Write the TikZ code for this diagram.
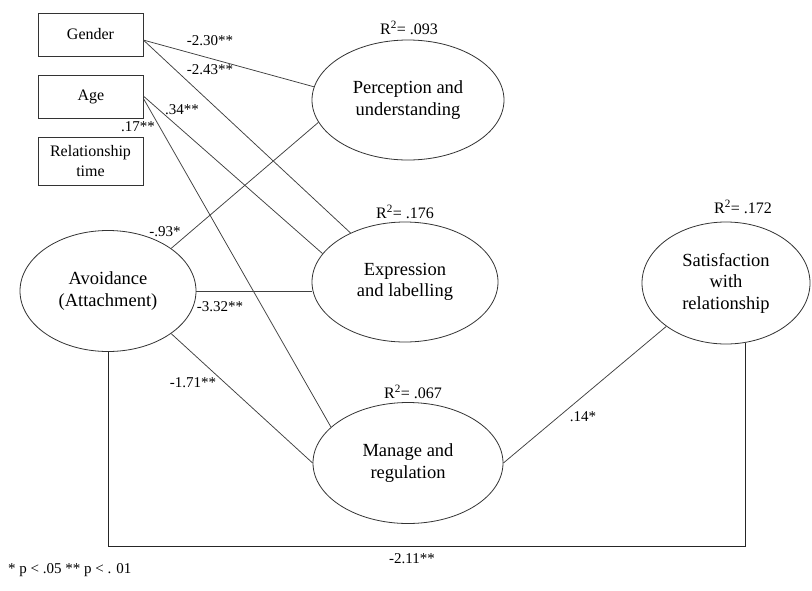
\documentclass[tikz,border=0pt]{standalone}
\usepackage{fontspec}
\setmainfont{Liberation Serif}
\usetikzlibrary{shapes.geometric,calc}
\begin{document}
\begin{tikzpicture}[x=1pt,y=-1pt,
  box/.style={draw=black!80, line width=0.8pt, rectangle, minimum width=105pt, minimum height=43pt, inner sep=0pt, align=center, font=\fontsize{16}{19.5}\selectfont},
  latent/.style={draw=black!80, line width=0.8pt, ellipse, inner sep=0pt, align=center, font=\fontsize{18.5}{21.5}\selectfont},
  conn/.style={draw=black!75, line width=0.75pt},
  coef/.style={font=\fontsize{15}{18}\selectfont, inner sep=0pt},
  rsq/.style={font=\fontsize{16}{19}\selectfont, inner sep=0pt}]
\useasboundingbox (0,0) rectangle (812,590);
\fill[white] (0,0) rectangle (812,590);

% observed variables
\node[box] (gender) at (90.5,34.5) {Gender};
\node[box] (age) at (91,96.5) {Age};
\node[box, minimum height=48pt] (rtime) at (90.5,161) {Relationship\\time};

% latent variables
\node[latent, minimum width=192pt, minimum height=120pt] (perc) at (408,100) {Perception and\\understanding};
\node[latent, minimum width=186pt, minimum height=120pt] (expr) at (405,282) {Expression\\and labelling};
\node[latent, minimum width=176pt, minimum height=121pt] (avoid) at (108,291) {Avoidance\\(Attachment)};
\node[latent, minimum width=190pt, minimum height=121pt] (manage) at (408,463) {Manage and\\regulation};
\node[latent, minimum width=168pt, minimum height=122pt] (satis) at (726,283) {Satisfaction\\with\\relationship};

% R squared
\node[rsq] (r1) at (409,28) {R\textsuperscript{2}= .093};
\node[rsq] (r2) at (405,212) {R\textsuperscript{2}= .176};
\node[rsq] (r3) at (743,207) {R\textsuperscript{2}= .172};
\node[rsq] (r4) at (413,392) {R\textsuperscript{2}= .067};

% connectors
\draw[conn] (gender.-6) -- (perc.172);
\draw[conn] (gender.-6) -- (expr.138);
\draw[conn] (age.east) -- (expr.161);
\draw[conn] (age.-3) -- (manage.155);
\draw[conn] (avoid.34.5) -- (perc.-166);
\draw[conn] (avoid.east) -- (avoid.east -| expr.west);
\draw[conn] (avoid.-34) -- (manage.west);
\draw[conn] (manage.east) -- (satis.-144.6);
\coordinate (base) at (0,546);
\draw[conn, line width=1pt, draw=black!85] (avoid.south) -- (avoid.south |- base) -| (satis.-72);

% coefficients
\node[coef] (c1) at (210,41) {-2.30**};
\node[coef] (c2) at (210,70) {-2.43**};
\node[coef] (c3) at (182,110) {.34**};
\node[coef] (c4) at (138,127) {.17**};
\node[coef] (c5) at (165,232) {-.93*};
\node[coef] (c6) at (220,307) {-3.32**};
\node[coef] (c7) at (193,383) {-1.71**};
\node[coef] (c8) at (583,417) {.14*};
\node[coef] (c9) at (412,559) {-2.11**};
\node[coef, anchor=west] (note) at (8,570) {* p < .05 ** p < . 01};
\end{tikzpicture}
\end{document}
